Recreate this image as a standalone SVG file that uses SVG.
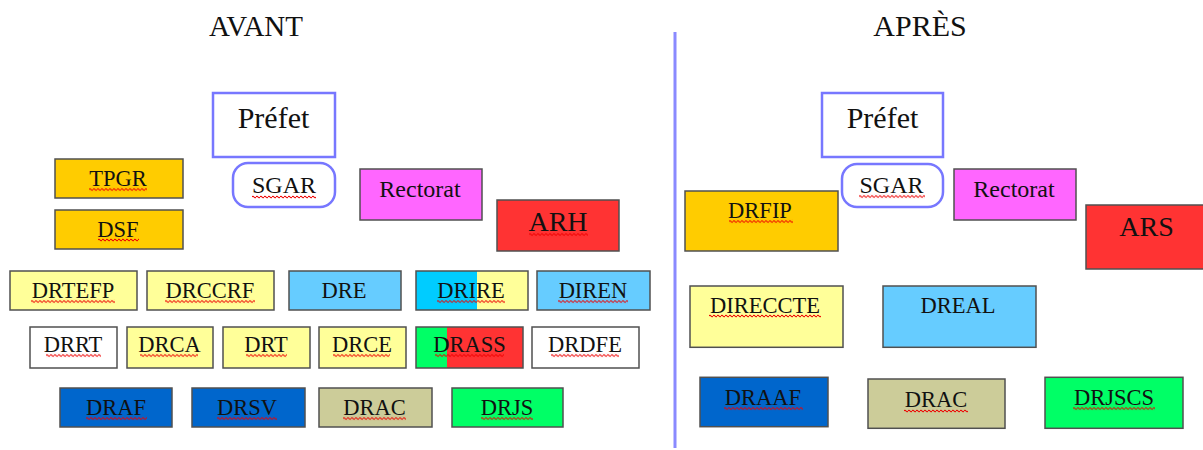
<svg xmlns="http://www.w3.org/2000/svg" width="1203" height="450" viewBox="0 0 1203 450">
<defs>
<pattern id="wave" width="4" height="4" patternUnits="userSpaceOnUse"><path d="M0,2 Q1,0.4 2,2 T4,2" fill="none" stroke="#ee0000" stroke-width="1.1"/></pattern>
</defs>
<style>
.t{font-family:"Liberation Serif","Times New Roman",serif;fill:#111;text-anchor:middle;font-size:22.5px}
.m{font-size:24px}
.l{font-size:28px}
.xl{font-size:30px}
.b{stroke:#505050;stroke-width:1.5}
.o{fill:none;stroke:#505050;stroke-width:1.5}
.p{fill:#fff;stroke:#7777ff;stroke-width:2.5}
.gold{fill:#ffcc00}.yel{fill:#ffff99}.lb{fill:#66ccff}.cy{fill:#00ccff}.gr{fill:#00ff66}.red{fill:#ff3333}.mag{fill:#ff66ff}.blu{fill:#0066cc}.kh{fill:#cccc99}.wh{fill:#ffffff}
.sq{fill:url(#wave)}
</style>
<rect width="1203" height="450" fill="#fff"/>
<text class="t" x="256" y="36" style="font-size:29px">AVANT</text>
<text class="t xl" x="920" y="36">APRÈS</text>
<g id="connectors">
<line x1="675" y1="32" x2="675" y2="448" stroke="#8a8aff" stroke-width="3"/>
</g>
<!-- AVANT -->
<g id="prefet-avant"><rect class="p" x="213" y="93" width="122" height="64"/><text class="t xl" x="273.5" y="128">Préfet</text></g>
<g id="sgar-avant"><rect class="p" x="233" y="163" width="102" height="44" rx="15"/><text class="t m" x="284" y="193">SGAR</text></g>
<g id="tpgr"><rect class="b gold" x="55" y="159" width="128" height="39"/><text class="t" x="118" y="186">TPGR</text></g>
<g id="dsf"><rect class="b gold" x="55" y="210" width="128" height="39"/><text class="t" x="118" y="236.5">DSF</text></g>
<g id="rectorat-avant"><rect class="b mag" x="360" y="169" width="122" height="51"/><text class="t m" x="420" y="197">Rectorat</text></g>
<g id="arh"><rect class="b red" x="497" y="200" width="122" height="51"/><text class="t l" x="558" y="231">ARH</text></g>
<g id="drtefp"><rect class="b yel" x="10" y="271" width="127" height="39"/><text class="t" x="73" y="298">DRTEFP</text></g>
<g id="drccrf"><rect class="b yel" x="147" y="271" width="127" height="39"/><text class="t" x="210" y="298">DRCCRF</text></g>
<g id="dre"><rect class="b lb" x="289" y="271" width="112" height="39"/><text class="t" x="344" y="298">DRE</text></g>
<g id="drire"><rect class="cy" x="416" y="271" width="61" height="39"/><rect class="yel" x="477" y="271" width="51" height="39"/><rect class="o" x="416" y="271" width="112" height="39"/><text class="t" x="471" y="298">DRIRE</text></g>
<g id="diren"><rect class="b lb" x="537" y="271" width="113" height="39"/><text class="t" x="593" y="298">DIREN</text></g>
<g id="drrt"><rect class="b wh" x="30" y="327" width="87" height="41"/><text class="t" x="73" y="352">DRRT</text></g>
<g id="drca"><rect class="b yel" x="127" y="327" width="86" height="41"/><text class="t" x="169.5" y="352">DRCA</text></g>
<g id="drt"><rect class="b yel" x="223" y="327" width="87" height="41"/><text class="t" x="266" y="352">DRT</text></g>
<g id="drce"><rect class="b yel" x="319" y="327" width="87" height="41"/><text class="t" x="362" y="352">DRCE</text></g>
<g id="drass"><rect class="gr" x="416" y="327" width="31" height="41"/><rect class="red" x="447" y="327" width="76" height="41"/><rect class="o" x="416" y="327" width="107" height="41"/><text class="t" x="469.5" y="352">DRASS</text></g>
<g id="drdfe"><rect class="b wh" x="532" y="327" width="107" height="41"/><text class="t" x="585" y="352">DRDFE</text></g>
<g id="draf"><rect class="b blu" x="60" y="388" width="112" height="39"/><text class="t" x="116" y="415">DRAF</text></g>
<g id="drsv"><rect class="b blu" x="192" y="388" width="113" height="39"/><text class="t" x="247" y="415">DRSV</text></g>
<g id="drac-avant"><rect class="b kh" x="319" y="388" width="113" height="39"/><text class="t" x="374.5" y="415">DRAC</text></g>
<g id="drjs"><rect class="b gr" x="452" y="388" width="111" height="39"/><text class="t" x="507" y="415">DRJS</text></g>
<!-- APRES -->
<g id="prefet-apres"><rect class="p" x="822" y="93" width="121" height="64"/><text class="t xl" x="882.5" y="128.3">Préfet</text></g>
<g id="sgar-apres"><rect class="p" x="842" y="164" width="101" height="43" rx="15"/><text class="t m" x="891.5" y="192.7">SGAR</text></g>
<g id="drfip"><rect class="b gold" x="685" y="191" width="153" height="60"/><text class="t" x="760" y="217.7">DRFIP</text></g>
<g id="rectorat-apres"><rect class="b mag" x="954" y="169" width="122" height="51"/><text class="t m" x="1014" y="196.7">Rectorat</text></g>
<g id="ars"><rect class="b red" x="1086" y="205" width="120" height="64"/><text class="t l" x="1146.5" y="236">ARS</text></g>
<g id="direccte"><rect class="b yel" x="690" y="286" width="153" height="61.3"/><text class="t" x="765" y="312.7">DIRECCTE</text></g>
<g id="dreal"><rect class="b lb" x="883" y="286" width="153" height="61.3"/><text class="t" x="958" y="312.7">DREAL</text></g>
<g id="draaf"><rect class="b blu" x="700" y="377.3" width="128" height="49.4"/><text class="t" x="763" y="405">DRAAF</text></g>
<g id="drac-apres"><rect class="b kh" x="868" y="379" width="137" height="49.3"/><text class="t" x="936" y="407.3">DRAC</text></g>
<g id="drjscs"><rect class="b gr" x="1045" y="377.3" width="138" height="51"/><text class="t" x="1114" y="405">DRJSCS</text></g>
<g id="spellcheck">
<rect class="sq" width="58" height="4" transform="translate(89,187.5)"/>
<rect class="sq" width="41" height="4" transform="translate(98,238)"/>
<rect class="sq" width="64" height="4" transform="translate(252,195)"/>
<rect class="sq" width="59" height="4" transform="translate(529,232.5)"/>
<rect class="sq" width="84" height="4" transform="translate(31,299.5)"/>
<rect class="sq" width="90" height="4" transform="translate(165,299.5)"/>
<rect class="sq" width="68" height="4" transform="translate(437,299.5)"/>
<rect class="sq" width="70" height="4" transform="translate(558,299.5)"/>
<rect class="sq" width="55" height="4" transform="translate(46,353.5)"/>
<rect class="sq" width="58" height="4" transform="translate(140,353.5)"/>
<rect class="sq" width="41" height="4" transform="translate(246,353.5)"/>
<rect class="sq" width="57" height="4" transform="translate(333,353.5)"/>
<rect class="sq" width="69" height="4" transform="translate(435,353.5)"/>
<rect class="sq" width="68" height="4" transform="translate(551,353.5)"/>
<rect class="sq" width="61" height="4" transform="translate(86,416.5)"/>
<rect class="sq" width="60" height="4" transform="translate(217,416.5)"/>
<rect class="sq" width="63" height="4" transform="translate(343,416.5)"/>
<rect class="sq" width="52" height="4" transform="translate(481,416.5)"/>
<rect class="sq" width="66" height="4" transform="translate(859,194.5)"/>
<rect class="sq" width="64" height="4" transform="translate(729,219.5)"/>
<rect class="sq" width="112" height="4" transform="translate(709,314)"/>
<rect class="sq" width="79" height="4" transform="translate(724,406.5)"/>
<rect class="sq" width="64" height="4" transform="translate(904,409)"/>
<rect class="sq" width="82" height="4" transform="translate(1073,406.5)"/>
</g>
</svg>
